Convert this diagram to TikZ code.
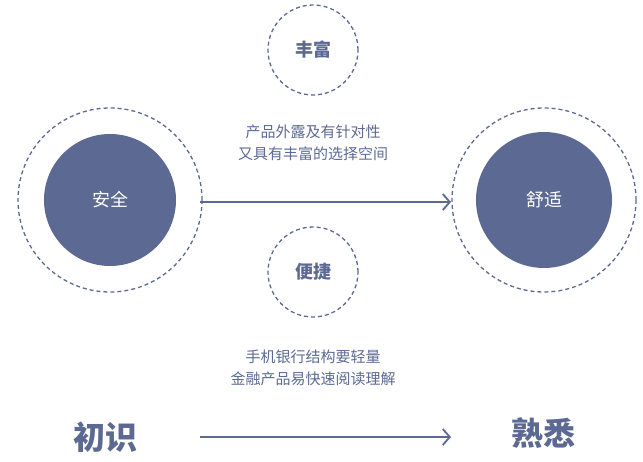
\documentclass[tikz,border=0pt]{standalone}
\usepackage{fontspec}
\setmainfont{Noto Sans CJK SC}
\usetikzlibrary{positioning,arrows.meta}
\definecolor{slate}{HTML}{5C6A93}
\tikzset{
  core/.style={circle, fill=slate, text=white, minimum size=132pt, inner sep=0pt, font=\fontsize{18}{22}\selectfont},
  halo/.style={circle, draw=slate, dash pattern=on 4pt off 3pt, line width=1.3pt, minimum size=184pt, inner sep=0pt},
  tag/.style={circle, draw=slate, dash pattern=on 4pt off 3pt, line width=1.3pt, text=slate, minimum size=90pt, inner sep=0pt, font=\fontsize{18}{22}\selectfont\bfseries},
  note/.style={text=slate, align=center, font=\fontsize{15}{22}\selectfont},
  stage/.style={text=slate, font=\fontsize{32}{36}\selectfont\bfseries},
  flow/.style={-{Straight Barb[length=7pt,width=16pt,line width=1.8pt]}, slate, line width=1.8pt}
}
\begin{document}
\begin{tikzpicture}[x=1pt,y=-1pt]
    \useasboundingbox (0,0) rectangle (643,462);

    % Main circles
    \node[core] (safe) at (110,200) {安全};
    \node[halo] (safeHalo) at (110,200) {};
    \node[core, minimum size=136pt] (comfort) at (544,200) {舒适};
    \node[halo] (comfortHalo) at (544,200) {};

    % Small dashed tags
    \node[tag] (rich) at (313,50) {丰富};
    \node[tag] (easy) at (313,272) {便捷};

    % Notes
    \node[note] (noteTop) at (313,143) {产品外露及有针对性\\又具有丰富的选择空间};
    \node[note] (noteBottom) at (313,368) {手机银行结构要轻量\\金融产品易快速阅读理解};

    % Stages
    \node[stage] (first) at (105,437) {初识};
    \node[stage] (known) at (543,433) {熟悉};

    % Arrows
    \coordinate (a1) at (200,202);
    \coordinate (b1) at (451,202);
    \draw[flow] (a1) -- (b1);
    \coordinate (a2) at (200,437);
    \coordinate (b2) at (451,437);
    \draw[flow] (a2) -- (b2);
\end{tikzpicture}
\end{document}
